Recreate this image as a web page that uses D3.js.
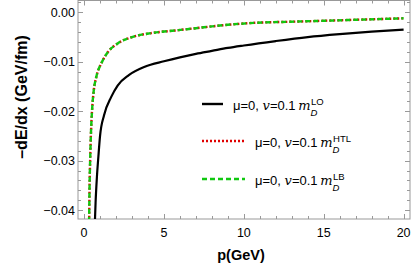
<!DOCTYPE html>
<html>
<head>
<meta charset="utf-8">
<script src="https://cdn.jsdelivr.net/npm/d3@7"></script>
<style>
  body { margin: 0; background: #fff; }
  text { font-family: "Liberation Sans", Arial, sans-serif; }
</style>
</head>
<body>
<svg id="chart"></svg>
<script>
// values: [p (GeV), -dE/dx (GeV/fm)]
const lo = [
  [0.66, -0.0440], [0.72, -0.0385], [0.8, -0.0335], [0.9, -0.0290], [1.0, -0.0250],
  [1.25, -0.0208], [1.7, -0.0171], [2.1, -0.0148], [2.8, -0.0127], [3.8, -0.0110],
  [5, -0.0099], [6, -0.0091], [7, -0.0084], [8, -0.0078], [9, -0.0072],
  [10, -0.0067], [12, -0.0058], [14, -0.0050], [16, -0.0044], [18, -0.0039], [20, -0.0035]
];
const htl = [
  [0.31, -0.0440], [0.34, -0.0360], [0.38, -0.0300], [0.43, -0.0245], [0.5, -0.0198],
  [0.6, -0.0160], [0.77, -0.0130], [1.08, -0.0103], [1.5, -0.0080], [2.1, -0.0063],
  [3.0, -0.0050], [4.2, -0.0042], [5.9, -0.0036], [7, -0.0032], [8.7, -0.0026],
  [10.8, -0.0021], [12.9, -0.0019], [15, -0.0017], [17, -0.0015], [20, -0.0012]
];
const lb = [
  [0.31, -0.0440], [0.34, -0.0360], [0.38, -0.0300], [0.43, -0.0245], [0.5, -0.0198],
  [0.6, -0.0160], [0.77, -0.0130], [1.08, -0.0103], [1.5, -0.0080], [2.1, -0.0063],
  [3.0, -0.0050], [4.2, -0.0042], [5.9, -0.0036], [7, -0.0032], [8.7, -0.0026],
  [10.8, -0.0021], [12.9, -0.0019], [15, -0.0017], [17, -0.0015], [20, -0.0012]
];
const xTicks = [0, 5, 10, 15, 20];
const yTicks = [0, -0.01, -0.02, -0.03, -0.04];
const legendSups = ["LO", "HTL", "LB"];

const width = 414, height = 273;
const mLeft = 78, mRight = 410, mTop = 0.5, mBottom = 219;

const svg = d3.select("#chart").attr("width", width).attr("height", height);

const x = d3.scaleLinear().domain([-0.38, 20.4]).range([mLeft, mRight]);
const y = d3.scaleLinear().domain([-0.0418, 0.0024]).range([mBottom, mTop]);

svg.append("defs").append("clipPath").attr("id", "plot")
  .append("rect").attr("x", mLeft).attr("y", mTop)
  .attr("width", mRight - mLeft).attr("height", mBottom - mTop);

// frame ticks, minor and major, on all four sides
const frame = svg.append("g").attr("stroke", "#999").attr("stroke-width", 1);
const xMinor = d3.range(0, 21, 1);
const yMinor = d3.range(-0.040, 0.0021, 0.002);
xMinor.forEach(v => {
  const len = v % 5 === 0 ? 5 : 3;
  const px = Math.round(x(v)) + 0.5;
  frame.append("line").attr("x1", px).attr("x2", px).attr("y1", mBottom).attr("y2", mBottom - len);
  frame.append("line").attr("x1", px).attr("x2", px).attr("y1", mTop).attr("y2", mTop + len);
});
yMinor.forEach(v => {
  const major = Math.abs(Math.round(v * 100) - v * 100) < 1e-6;
  const len = major ? 5 : 3;
  const py = Math.round(y(v)) + 0.5;
  frame.append("line").attr("y1", py).attr("y2", py).attr("x1", mLeft).attr("x2", mLeft + len);
  frame.append("line").attr("y1", py).attr("y2", py).attr("x1", mRight).attr("x2", mRight - len);
});
frame.append("rect").attr("x", mLeft).attr("y", mTop)
  .attr("width", mRight - mLeft).attr("height", mBottom - mTop).attr("fill", "none");

svg.append("g").selectAll("text").data(xTicks).enter().append("text")
  .attr("x", d => x(d)).attr("y", 237)
  .attr("text-anchor", "middle").attr("font-size", "12.5px")
  .text(d => d);

svg.append("g").selectAll("text").data(yTicks).enter().append("text")
  .attr("x", 75).attr("y", d => y(d)).attr("dy", "0.36em")
  .attr("text-anchor", "end").attr("font-size", "12.5px")
  .text(d => d === 0 ? "0.00" : "\u2212" + Math.abs(d).toFixed(2));

svg.append("text")
  .attr("transform", "translate(27,97) rotate(-90)")
  .attr("text-anchor", "middle").attr("font-size", "16px").attr("font-weight", "bold")
  .text("\u2013dE/dx (GeV/fm)");

svg.append("text")
  .attr("x", 241).attr("y", 260)
  .attr("text-anchor", "middle").attr("font-size", "14.5px").attr("font-weight", "bold")
  .text("p(GeV)");

const line = d3.line()
  .x(d => x(d[0])).y(d => y(d[1]))
  .curve(d3.curveMonotoneX);

const curves = svg.append("g").attr("clip-path", "url(#plot)").attr("fill", "none");
curves.append("path").datum(lo).attr("d", line)
  .attr("stroke", "#000").attr("stroke-width", 2.2);
curves.append("path").datum(htl).attr("d", line)
  .attr("stroke", "#e00000").attr("stroke-width", 2.4).attr("stroke-dasharray", "2,2");
curves.append("path").datum(lb).attr("d", line)
  .attr("stroke", "#10c810").attr("stroke-width", 2.4).attr("stroke-dasharray", "5,3");

// legend
const legendRows = [
  { y: 104, x1: 202, x2: 223, tx: 233, stroke: "#000", dash: null, sup: legendSups[0] },
  { y: 141, x1: 202, x2: 245, tx: 255, stroke: "#e00000", dash: "2,2", sup: legendSups[1] },
  { y: 179, x1: 202, x2: 245, tx: 255, stroke: "#10c810", dash: "5,3", sup: legendSups[2] }
];
const legend = svg.append("g");
legendRows.forEach(r => {
  legend.append("line")
    .attr("x1", r.x1).attr("x2", r.x2).attr("y1", r.y).attr("y2", r.y)
    .attr("stroke", r.stroke).attr("stroke-width", 2.4)
    .attr("stroke-dasharray", r.dash);
  const t = legend.append("text").attr("x", r.tx).attr("y", r.y + 5.5).attr("font-size", "13px");
  t.append("tspan").text("\u03bc=0, ");
  t.append("tspan").attr("font-style", "italic").attr("font-family", "DejaVu Serif, serif").text("v");
  t.append("tspan").text("=0.1\u2009");
  t.append("tspan").attr("font-style", "italic").attr("font-family", "DejaVu Serif, serif").text("m");
  // subscript D, then superscript stacked above it
  const sub = t.append("tspan").attr("dy", 6).attr("font-size", "9.5px")
    .attr("font-style", "italic").text("D");
  const dw = sub.node().getComputedTextLength();
  t.append("tspan").attr("dx", -dw + 0.5).attr("dy", -11).attr("font-size", "9.5px").text(r.sup);
});
</script>
</body>
</html>
